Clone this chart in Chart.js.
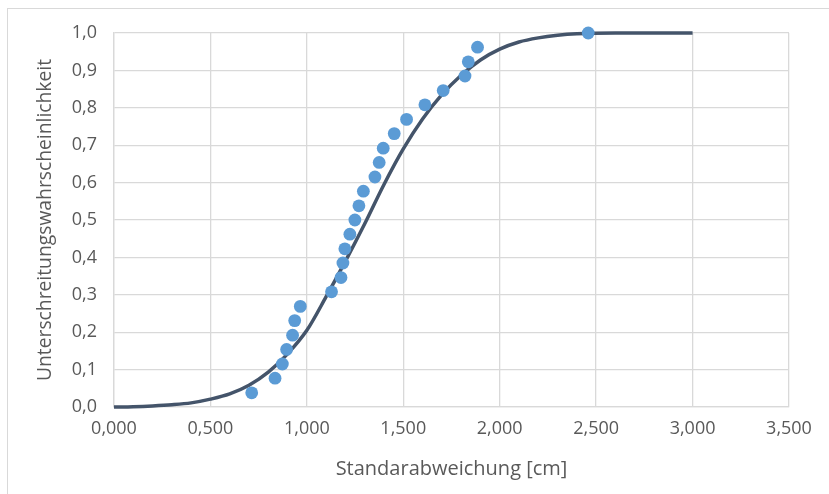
<!DOCTYPE html>
<html lang="de">
<head>
<meta charset="utf-8">
<title>Unterschreitungswahrscheinlichkeit</title>
<script src="https://cdn.jsdelivr.net/npm/chart.js@4/dist/chart.umd.min.js"></script>
<style>
    html, body { margin: 0; padding: 0; background: #ffffff; }
    #wrap { position: relative; width: 829px; height: 494px; overflow: hidden; }
    #frame {
        position: absolute; left: 7px; top: 8px; width: 900px; height: 600px;
        border: 1px solid #d9d9d9; box-sizing: border-box;
    }
    canvas { position: absolute; left: 0; top: 0; }
</style>
</head>
<body>
<div id="wrap">
    <div id="frame"></div>
    <canvas id="chart" width="829" height="494"></canvas>
</div>
<script>
// empirical values: standard deviation [cm] and plotting position
const sigma = [0.714, 0.835, 0.873, 0.895, 0.926, 0.937, 0.966, 1.128, 1.177, 1.187, 1.197, 1.223, 1.249,
    1.270, 1.293, 1.353, 1.375, 1.396, 1.453, 1.517, 1.612, 1.707, 1.820, 1.837, 1.885, 2.459];
const prob = [0.038, 0.077, 0.115, 0.154, 0.192, 0.231, 0.269, 0.308, 0.346, 0.385, 0.423, 0.462, 0.500,
    0.538, 0.577, 0.615, 0.654, 0.692, 0.731, 0.769, 0.808, 0.846, 0.885, 0.923, 0.962, 1.000];

// fitted distribution curve
const curveX = [0, 0.1, 0.2, 0.3, 0.4, 0.5, 0.6, 0.7, 0.8, 0.9, 1.0, 1.1, 1.2, 1.3, 1.4, 1.5, 1.6,
    1.7, 1.8, 1.9, 2.0, 2.1, 2.2, 2.3, 2.4, 2.6, 2.8, 3.0];
const curveY = [0, 0.001, 0.003, 0.006, 0.011, 0.021, 0.035, 0.058, 0.093, 0.142, 0.205, 0.295, 0.390,
    0.490, 0.595, 0.690, 0.770, 0.835, 0.887, 0.928, 0.957, 0.976, 0.987, 0.994, 0.998, 1.000, 1.000, 1.000];

const xTicks = [0, 0.5, 1.0, 1.5, 2.0, 2.5, 3.0, 3.5];
const yTicks = [0, 0.1, 0.2, 0.3, 0.4, 0.5, 0.6, 0.7, 0.8, 0.9, 1.0];

const FONT = "'Open Sans', sans-serif";
const TEXT = "#595959";
const GRID = "#d9d9d9";

const toPoints = (xs, ys) => xs.map((x, i) => ({ x, y: ys[i] }));
const fmt = (v, d) => v.toFixed(d).replace(".", ",");

new Chart(document.getElementById("chart"), {
    type: "scatter",
    data: {
        datasets: [
            {
                label: "Messwerte",
                data: toPoints(sigma, prob),
                backgroundColor: "#5b9bd5",
                borderWidth: 0,
                pointRadius: 6.4,
                clip: false,
            },
            {
                label: "Verteilung",
                type: "line",
                data: toPoints(curveX, curveY),
                borderColor: "#44546a",
                borderWidth: 3.5,
                pointRadius: 0,
                fill: false,
                clip: false,
                cubicInterpolationMode: "monotone",
            },
        ],
    },
    options: {
        responsive: false,
        animation: false,
        layout: {
            padding: { left: 0, right: 40, top: 33, bottom: 13 },
        },
        plugins: {
            legend: { display: false },
            tooltip: { enabled: false },
        },
        scales: {
            x: {
                type: "linear",
                min: 0,
                max: 3.5,
                afterBuildTicks: (s) => { s.ticks = xTicks.map((value) => ({ value })); },
                afterFit: (s) => { s.height = 494 - 13 - 407; },
                grid: { color: GRID, lineWidth: 1.3, drawTicks: false },
                border: { color: GRID, width: 1.3 },
                ticks: {
                    color: TEXT,
                    padding: 11,
                    font: { family: FONT, size: 18 },
                    callback: (v) => fmt(v, 3),
                },
                title: {
                    display: true,
                    text: "Standarabweichung [cm]",
                    color: TEXT,
                    font: { family: FONT, size: 20 },
                    padding: { top: 0, bottom: 0 },
                },
            },
            y: {
                type: "linear",
                min: 0,
                max: 1,
                afterBuildTicks: (s) => { s.ticks = yTicks.map((value) => ({ value })); },
                afterFit: (s) => { s.width = 114; },
                grid: { color: GRID, lineWidth: 1.3, drawTicks: false },
                border: { color: GRID, width: 1.3 },
                ticks: {
                    color: TEXT,
                    padding: 17,
                    font: { family: FONT, size: 18 },
                    callback: (v) => fmt(v, 1),
                },
                title: {
                    display: true,
                    text: "Unterschreitungswahrscheinlichkeit",
                    color: TEXT,
                    font: { family: FONT, size: 19.3 },
                    padding: { top: 34, bottom: 0 },
                },
            },
        },
    },
});
</script>
</body>
</html>
